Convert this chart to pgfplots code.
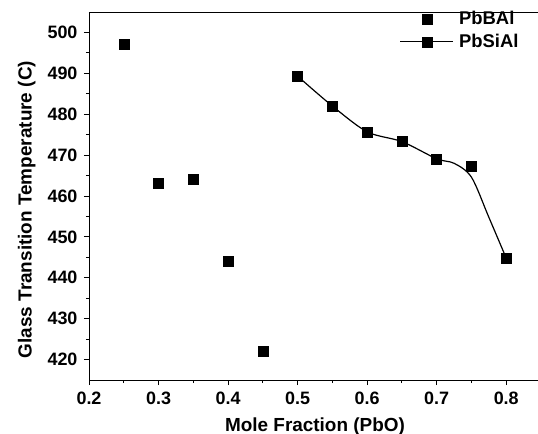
\documentclass[border=0pt]{standalone}
\usepackage{fontspec}
\setmainfont{Liberation Sans}
\usepackage{pgfplots}
\pgfplotsset{compat=1.18}

% PbBAl: scatter only
\pgfplotstableread{
x y
0.25 497.1
0.30 463.1
0.35 464.1
0.40 444.0
0.45 422.0
}\pbbal
% PbSiAl: measured points
\pgfplotstableread{
x y
0.50 489.3
0.55 482.0
0.60 475.7
0.65 473.3
0.70 469.1
0.75 467.4
0.80 444.8
}\pbsial
% PbSiAl: fitted spline
\pgfplotstableread{
x y
0.50 489.3
0.55 482.0
0.60 475.7
0.65 473.3
0.70 469.1
0.725 468.0
0.75 464.6
0.775 454.8
0.80 444.8
}\pbsialfit

\begin{document}
\begin{tikzpicture}
\begin{axis}[
  at={(0,0)}, anchor=south west,
  scale only axis, width=452bp, height=368bp,
  xmin=0.2, xmax=0.85, ymin=415, ymax=505,
  xtick={0.2,0.3,...,0.8}, ytick={420,430,...,500},
  minor tick num=1,
  xtick pos=bottom, ytick pos=left,
  tick align=outside,
  major tick length=5bp, minor tick length=3bp,
  tick style={black, line width=0.9bp},
  axis line style={black, line width=0.9bp},
  /pgf/number format/assume math mode=true,
  /pgf/number format/fixed,
  /pgf/number format/precision=1,
  tick label style={font=\bfseries\fontsize{18}{18}\selectfont},
  xticklabel style={yshift=-3bp},
  yticklabel style={xshift=-3bp},
  xlabel={Mole Fraction (PbO)},
  ylabel={Glass Transition Temperature (C)},
  every axis x label/.style={at={(axis description cs:0.5,-0.1386)}, anchor=base,
    font=\bfseries\fontsize{19}{19}\selectfont},
  every axis y label/.style={at={(axis description cs:-0.1268,0.463)}, anchor=base, rotate=90,
    font=\bfseries\fontsize{19}{19}\selectfont},
  legend style={at={(axis description cs:0.6874,1.007)}, anchor=north west,
    draw=none, fill=none, inner sep=0pt, row sep=4bp, column sep=4bp,
    font=\bfseries\fontsize{18.5}{18.5}\selectfont},
  legend cell align=left,
]
\addplot[only marks, mark=square*, mark size=5bp, black,
  legend image code/.code={\draw plot coordinates {(27bp,0bp)};}]
  table[x=x,y=y] {\pbbal};
\addlegendentry{PbBAl}
\addplot[smooth, black, line width=1.2bp, forget plot] table[x=x,y=y] {\pbsialfit};
\addplot[only marks, mark=square*, mark size=5bp, black,
  legend image code/.code={
    \draw[black, line width=1.2bp] (0bp,0bp) -- (52bp,0bp);
    \draw plot coordinates {(27bp,0bp)};}]
  table[x=x,y=y] {\pbsial};
\addlegendentry{PbSiAl}
\draw[black, line width=0.9bp] (rel axis cs:0,1) -- (rel axis cs:1,1);
\end{axis}
\pgfresetboundingbox
\path (-89bp,-54bp) rectangle (449bp,380bp);
\end{tikzpicture}
\end{document}
